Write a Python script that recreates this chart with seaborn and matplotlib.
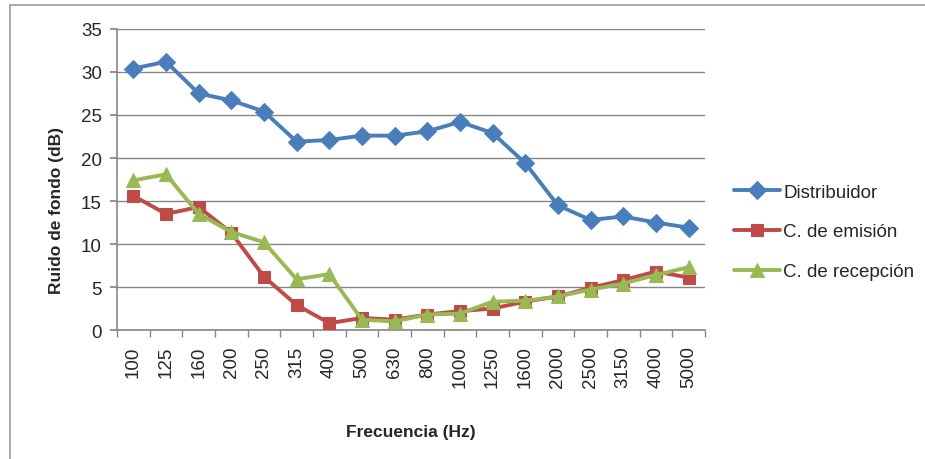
import matplotlib
matplotlib.use("Agg")
import matplotlib.pyplot as plt
import seaborn as sns
import pandas as pd
from matplotlib.lines import Line2D

categories = ["100", "125", "160", "200", "250", "315", "400", "500", "630", "800",
              "1000", "1250", "1600", "2000", "2500", "3150", "4000", "5000"]
distribuidor = [30.4, 31.2, 27.5, 26.7, 25.4, 21.9, 22.1, 22.6, 22.6, 23.1,
                24.2, 22.9, 19.4, 14.5, 12.8, 13.2, 12.5, 11.9]
emision = [15.6, 13.5, 14.3, 11.3, 6.2, 2.9, 0.8, 1.4, 1.2, 1.8,
           2.2, 2.5, 3.3, 3.9, 4.9, 5.8, 6.8, 6.1]
recepcion = [17.4, 18.1, 13.5, 11.4, 10.2, 5.9, 6.5, 1.2, 1.0, 1.8,
             1.9, 3.3, 3.4, 3.9, 4.7, 5.4, 6.4, 7.3]
series_names = ["Distribuidor", "C. de emisión", "C. de recepción"]

sns.set_theme(style="white")
plt.rcParams['font.family'] = ['Liberation Sans', 'DejaVu Sans']

rows = []
for name, vals in zip(series_names, [distribuidor, emision, recepcion]):
    for i, v in enumerate(vals):
        rows.append({"x": i, "y": v, "serie": name})
df = pd.DataFrame(rows)

fig = plt.figure(figsize=(9.25, 4.6), dpi=100)
ax = fig.add_axes([0.1265, 0.2804, 0.762 - 0.1265, 0.9348 - 0.2804])

palette = {"Distribuidor": "#4A7EBB", "C. de emisión": "#BE4B48", "C. de recepción": "#98B954"}
markers = {"Distribuidor": "D", "C. de emisión": "s", "C. de recepción": "^"}
sizes = {"Distribuidor": 9, "C. de emisión": 9, "C. de recepción": 10}

for name in series_names:
    sub = df[df.serie == name]
    sns.lineplot(data=sub, x="x", y="y", ax=ax, color=palette[name], marker=markers[name],
                 markersize=sizes[name], markeredgecolor=palette[name], linewidth=2.8,
                 label=name, zorder=3)

ax.set_xlim(-0.5, len(categories) - 0.5)
ax.set_ylim(0, 35)
ax.set_yticks(range(0, 36, 5))
ax.set_xticks(range(len(categories)))
ax.set_xticklabels(categories, rotation=90, fontsize=13.5)
ax.tick_params(axis='y', labelsize=13.5, length=5, color="#868686", direction='out',
               left=True, pad=6)
ax.tick_params(axis='x', length=0, pad=11)
ax.set_xticks([i - 0.5 for i in range(len(categories) + 1)], minor=True)
ax.tick_params(axis='x', which='minor', length=5, color="#868686", direction='out', bottom=True)
ax.yaxis.grid(True, color="#868686", linewidth=1)
ax.set_axisbelow(True)
for s in ["top", "right"]:
    ax.spines[s].set_visible(False)
for s in ["left", "bottom"]:
    ax.spines[s].set_color("#868686")
    ax.spines[s].set_linewidth(1.2)

ax.set_xlabel("Frecuencia (Hz)", fontsize=12.5, fontweight="bold")
ax.set_ylabel("Ruido de fondo (dB)", fontsize=12.5, fontweight="bold")
ax.xaxis.set_label_coords(0.5, -0.312)
ax.yaxis.set_label_coords(-0.09, 0.40)

leg = ax.legend(loc="center left", bbox_to_anchor=(1.036, 0.326), frameon=False,
                fontsize=13.5, handlelength=2.5, labelspacing=1.2, handletextpad=0.15,
                borderaxespad=0)

fig.add_artist(Line2D([10 / 925, 1.0], [1 - 6 / 460, 1 - 6 / 460], transform=fig.transFigure,
                      color="#9a9a9a", linewidth=1.2))
fig.add_artist(Line2D([10 / 925, 10 / 925], [0, 1 - 6 / 460], transform=fig.transFigure,
                      color="#9a9a9a", linewidth=1.2))

fig.savefig("out.png", dpi=100)
